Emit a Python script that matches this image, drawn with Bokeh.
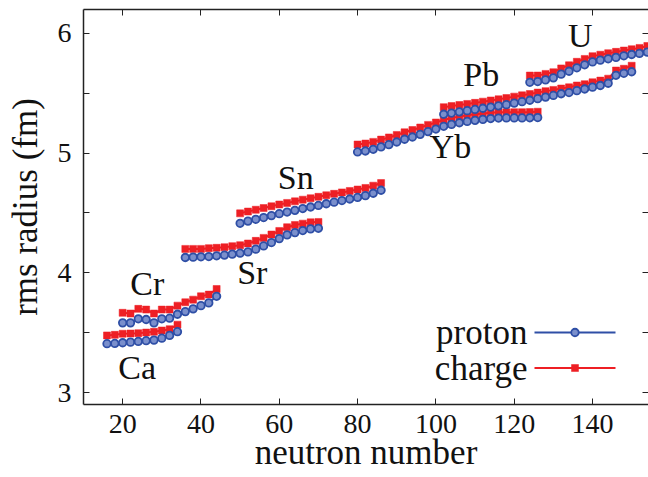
from bokeh.plotting import figure
from bokeh.models import (FixedTicker, LinearAxis, Label, Range1d, CustomLabelingPolicy)
from bokeh.embed import file_html
from bokeh.resources import INLINE

# ---------------- data ----------------
N_ca = [16, 18, 20, 22, 24, 26, 28, 30, 32, 34]
p_ca = [3.408, 3.410, 3.416, 3.421, 3.427, 3.433, 3.438, 3.454, 3.477, 3.508]
c_ca = [3.477, 3.482, 3.491, 3.493, 3.496, 3.501, 3.507, 3.518, 3.529, 3.567]

N_cr = [20, 22, 24, 26, 28, 30, 32, 34, 36, 38, 40, 42, 44]
p_cr = [3.582, 3.582, 3.616, 3.610, 3.582, 3.616, 3.621, 3.654, 3.676, 3.699, 3.726, 3.749, 3.804]
c_cr = [3.666, 3.660, 3.699, 3.693, 3.660, 3.693, 3.693, 3.726, 3.754, 3.776, 3.804, 3.818, 3.865]

N_sr = [36, 38, 40, 42, 44, 46, 48, 50, 52, 54, 56, 58, 60, 62, 64, 66, 68, 70]
p_sr = [4.128, 4.131, 4.134, 4.136, 4.142, 4.148, 4.156, 4.164, 4.175, 4.198, 4.225, 4.253,
        4.286, 4.317, 4.336, 4.353, 4.367, 4.372]
c_sr = [4.200, 4.200, 4.200, 4.206, 4.209, 4.214, 4.223, 4.231, 4.245, 4.267, 4.292, 4.320,
        4.350, 4.381, 4.400, 4.411, 4.422, 4.425]

N_sn = [50, 52, 54, 56, 58, 60, 62, 64, 66, 68, 70, 72, 74, 76, 78, 80, 82, 84, 86]
p_sn = [4.414, 4.432, 4.447, 4.462, 4.478, 4.494, 4.508, 4.522, 4.537, 4.550, 4.563, 4.577,
        4.590, 4.604, 4.617, 4.630, 4.645, 4.665, 4.690]
c_sn = [4.497, 4.512, 4.527, 4.541, 4.556, 4.571, 4.584, 4.597, 4.611, 4.623, 4.635, 4.648,
        4.660, 4.672, 4.684, 4.696, 4.709, 4.728, 4.750]

N_yb = [80, 82, 84, 86, 88, 90, 92, 94, 96, 98, 100, 102, 104, 106, 108, 110, 112, 114,
        116, 118, 120, 122, 124, 126]
p_yb = [5.010, 5.018, 5.032, 5.052, 5.071, 5.093, 5.116, 5.135, 5.157, 5.180, 5.201, 5.224,
        5.240, 5.254, 5.265, 5.274, 5.282, 5.289, 5.293, 5.294, 5.294, 5.294, 5.295, 5.297]
c_yb = [5.072, 5.080, 5.094, 5.113, 5.131, 5.152, 5.174, 5.193, 5.214, 5.236, 5.256, 5.278,
        5.293, 5.306, 5.316, 5.325, 5.332, 5.338, 5.341, 5.342, 5.342, 5.342, 5.343, 5.346]

N_pb = [102, 104, 106, 108, 110, 112, 114, 116, 118, 120, 122, 124, 126, 128, 130, 132,
        134, 136, 138, 140, 142, 144, 146, 148, 150]
p_pb = [5.325, 5.335, 5.345, 5.355, 5.365, 5.375, 5.385, 5.395, 5.405, 5.418, 5.430, 5.442,
        5.455, 5.468, 5.482, 5.496, 5.506, 5.522, 5.536, 5.551, 5.565, 5.584, 5.650, 5.667, 5.680]
c_pb = [5.384, 5.393, 5.402, 5.411, 5.420, 5.430, 5.440, 5.450, 5.460, 5.472, 5.483, 5.494,
        5.506, 5.518, 5.528, 5.540, 5.550, 5.565, 5.576, 5.592, 5.606, 5.622, 5.690, 5.705, 5.730]

N_u = [124, 126, 128, 130, 132, 134, 136, 138, 140, 142, 144, 146, 148, 150, 152, 154]
p_u = [5.592, 5.598, 5.612, 5.629, 5.660, 5.684, 5.713, 5.738, 5.762, 5.777, 5.788, 5.800,
       5.813, 5.824, 5.833, 5.844]
c_u = [5.648, 5.648, 5.662, 5.676, 5.708, 5.734, 5.763, 5.787, 5.810, 5.822, 5.835, 5.846,
       5.857, 5.868, 5.879, 5.895]

chains = [(N_ca, p_ca, c_ca), (N_cr, p_cr, c_cr), (N_sr, p_sr, c_sr), (N_sn, p_sn, c_sn),
          (N_yb, p_yb, c_yb), (N_pb, p_pb, c_pb), (N_u, p_u, c_u)]

element_names = ["Ca", "Cr", "Sr", "Sn", "Yb", "Pb", "U"]
label_x = [23.7, 26.3, 53.1, 64.2, 103.7, 111.6, 136.9]
label_y = [3.213, 3.911, 4.000, 4.797, 5.055, 5.657, 5.983]

x_ticks = [20, 40, 60, 80, 100, 120, 140]
y_ticks = [3, 4, 5, 6]
y_minor = [3.5, 4.5, 5.5]

series_names = ["proton", "charge"]

# ---------------- styling ----------------
FONT = "Liberation Serif"
BLUE = "#2f4fa6"
BLUE_FILL = "#7a8fcc"
RED = "#ee1f24"

FRAME_W, FRAME_H = 565, 395

p = figure(width=648, height=477, output_backend="svg", toolbar_location=None,
           x_range=Range1d(10, 154.3), y_range=Range1d(2.9, 6.2),
           min_border_left=83, min_border_right=0, min_border_top=9, min_border_bottom=73)
p.outline_line_color = None
p.xgrid.visible = False
p.ygrid.visible = False
p.background_fill_color = "white"
p.border_fill_color = "white"
# pixel-like ranges for the legend key (decoration only)
p.extra_x_ranges = {"px": Range1d(0, FRAME_W)}
p.extra_y_ranges = {"py": Range1d(0, FRAME_H)}

# charge first, proton on top
for N, pr, ch in chains:
    p.line(N, ch, line_color=RED, line_width=2)
    p.scatter(N, ch, marker="square", size=7, fill_color=RED, line_color=RED, line_width=0.5)
for N, pr, ch in chains:
    p.line(N, pr, line_color=BLUE, line_width=2)
    p.scatter(N, pr, marker="circle", size=7.5, fill_color=BLUE_FILL, line_color=BLUE,
              line_width=1.8)

# axes
hide_all = CustomLabelingPolicy(code="""
    for (const i of [...indices]) {
        if (indices.unset) { indices.unset(i) } else { indices.set(i, false) }
    }
    return indices
""")

def style_axis(ax, labels=True):
    ax.axis_line_color = "#222222"
    ax.axis_line_width = 1.5
    ax.major_tick_line_color = "#222222"
    ax.minor_tick_line_color = "#222222"
    ax.major_tick_line_width = 1
    ax.minor_tick_line_width = 1
    ax.major_tick_in = 6
    ax.major_tick_out = 0
    ax.minor_tick_in = 6
    ax.minor_tick_out = 0
    if labels:
        ax.major_label_text_font = FONT
        ax.major_label_text_font_size = "28px"
        ax.major_label_text_color = "#111111"
        ax.axis_label_text_font = FONT
        ax.axis_label_text_font_size = "35px"
        ax.axis_label_text_font_style = "normal"
        ax.axis_label_text_color = "#111111"
    else:
        ax.major_label_text_font_size = "0px"
        ax.major_label_standoff = 0
        ax.axis_label_standoff = 0
        ax.major_label_policy = hide_all

p.xaxis.ticker = FixedTicker(ticks=x_ticks, minor_ticks=[])
p.yaxis.ticker = FixedTicker(ticks=y_ticks, minor_ticks=y_minor)
style_axis(p.xaxis[0])
style_axis(p.yaxis[0])
p.xaxis.axis_label = "neutron number"
p.yaxis.axis_label = "rms radius (fm)"
p.xaxis.major_label_standoff = 10
p.xaxis.axis_label_standoff = -3
p.yaxis.major_label_standoff = 12
p.yaxis.axis_label_standoff = 10

top = LinearAxis(ticker=FixedTicker(ticks=x_ticks, minor_ticks=[]))
style_axis(top, labels=False)
p.add_layout(top, "above")
right = LinearAxis(ticker=FixedTicker(ticks=y_ticks, minor_ticks=y_minor))
style_axis(right, labels=False)
right.axis_line_color = None
p.add_layout(right, "right")

# element labels
for name, lx, ly in zip(element_names, label_x, label_y):
    p.add_layout(Label(x=lx, y=ly, text=name, text_font=FONT, text_font_size="34px",
                       text_align="center", text_baseline="middle", text_color="#111111"))

# legend (gnuplot style: text, then line sample with marker)
key_x0, key_x1 = 451, 532
key_rows = [72, 36.5]
key_mid = (key_x0 + key_x1) / 2
p.line([key_x0, key_x1], [key_rows[0]] * 2, line_color=BLUE, line_width=2,
       x_range_name="px", y_range_name="py")
p.scatter([key_mid], [key_rows[0]], marker="circle", size=7.5, fill_color=BLUE_FILL,
          line_color=BLUE, line_width=1.8, x_range_name="px", y_range_name="py")
p.line([key_x0, key_x1], [key_rows[1]] * 2, line_color=RED, line_width=2,
       x_range_name="px", y_range_name="py")
p.scatter([key_mid], [key_rows[1]], marker="square", size=7, fill_color=RED,
          line_color=RED, line_width=0.5, x_range_name="px", y_range_name="py")

for txt, sy in zip(series_names, key_rows):
    p.add_layout(Label(x=key_x0 - 7, y=sy, x_units="screen", y_units="screen", text=txt,
                       text_font=FONT, text_font_size="35px", text_align="right",
                       text_baseline="middle", text_color="#111111"))

open("out.html", "w").write(file_html(p, INLINE))
